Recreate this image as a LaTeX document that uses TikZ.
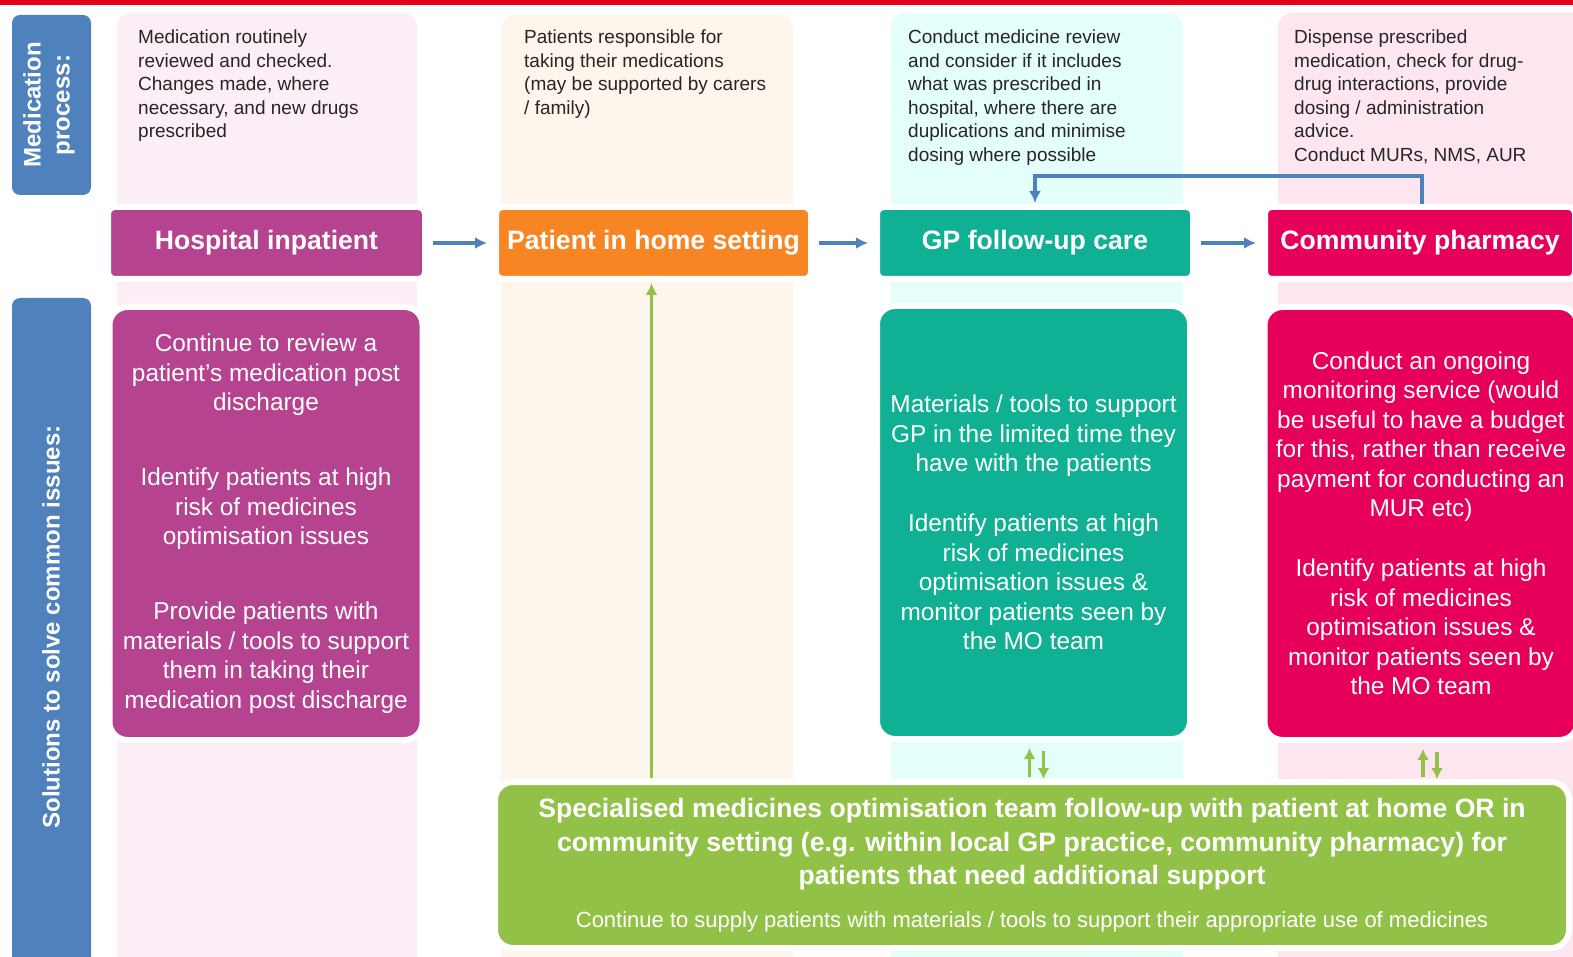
\documentclass[tikz,border=0pt]{standalone}
\usepackage{fontspec}
\setmainfont{Liberation Sans}
\usetikzlibrary{arrows.meta}

\definecolor{topred}{RGB}{226,0,26}
\definecolor{procblue}{RGB}{79,129,189}
\definecolor{hospfill}{RGB}{181,67,143}
\definecolor{homefill}{RGB}{248,133,36}
\definecolor{gpfill}{RGB}{16,176,148}
\definecolor{pharmfill}{RGB}{230,0,90}
\definecolor{mofill}{RGB}{146,193,71}
\definecolor{hospbg}{RGB}{251,238,246}
\definecolor{homebg}{RGB}{254,245,236}
\definecolor{gpbg}{RGB}{227,254,251}
\definecolor{pharmbg}{RGB}{253,230,239}
\definecolor{notetext}{RGB}{38,38,38}

\tikzset{
  sidelabel/.style={rotate=90, align=center, inner sep=0, text=white,
    font=\fontsize{24}{29}\selectfont\bfseries},
  note/.style={anchor=north west, align=left, inner sep=0, text=notetext,
    font=\fontsize{19}{23.5}\selectfont},
  stagebox/.style={rounded corners=7pt, draw=white, line width=6pt, text=white,
    minimum height=72, inner sep=0, font=\fontsize{26.6}{32}\selectfont\bfseries},
  solbox/.style={rounded corners=18pt, draw=white, line width=6pt, text=white,
    minimum width=313, minimum height=433, inner sep=0, align=center,
    font=\fontsize{24.4}{29.5}\selectfont},
  flow/.style={-{Latex[length=12pt,width=12pt]}, draw=procblue, line width=3.6pt},
  molink/.style={-{Latex[length=11pt,width=12pt]}, draw=mofill, line width=3.8pt}
}

\begin{document}
\begin{tikzpicture}[x=1pt, y=-1pt]
\useasboundingbox (0,0) rectangle (1573,957);
\clip (0,0) rectangle (1573,957);

% red rule on top
\fill[topred] (0,0) rectangle (1573,5);

% column backgrounds
\fill[hospbg, rounded corners=14pt] (117,13) rectangle (417,990);
\fill[homebg, rounded corners=14pt] (501,15) rectangle (793,990);
\fill[gpbg, rounded corners=14pt] (891,13) rectangle (1183,990);
\fill[pharmbg, rounded corners=14pt] (1278,13) rectangle (1600,990);

% row labels
\fill[procblue, rounded corners=8pt] (12,15) rectangle (91,195);
\node[sidelabel] (medproc) at (49,105) {Medication\\process:};
\fill[procblue, rounded corners=8pt] (12,298) rectangle (91,990);
\node[sidelabel] (solissues) at (51,627) {Solutions to solve common issues:};

% process notes
\node[note] (hospnote) at (138,30) {Medication routinely\\reviewed and checked.\\Changes made, where\\necessary, and new drugs\\prescribed};
\node[note] (homenote) at (524,30) {Patients responsible for\\taking their medications\\(may be supported by carers\\/ family)};
\node[note] (gpnote) at (908,30) {Conduct medicine review\\and consider if it includes\\what was prescribed in\\hospital, where there are\\duplications and minimise\\dosing where possible};
\node[note] (pharmnote) at (1294,30) {Dispense prescribed\\medication, check for drug-\\drug interactions, provide\\dosing / administration\\advice.\\Conduct MURs, NMS, AUR};

% stages
\node[stagebox, fill=hospfill, minimum width=317] (hosp) at (266.5,243) {Hospital inpatient};
\node[stagebox, fill=homefill, minimum width=315] (home) at (653.5,243) {Patient in home setting};
\node[stagebox, fill=gpfill, minimum width=316] (gp) at (1035,243) {GP follow-up care};
\node[stagebox, fill=pharmfill, minimum width=310] (pharm) at (1420,243) {Community pharmacy};

\draw[flow, shorten <=5pt, shorten >=6pt] (hosp.east) -- (home.west);
\draw[flow, shorten <=5pt, shorten >=6pt] (home.east) -- (gp.west);
\draw[flow, shorten <=5pt, shorten >=6pt] (gp.east) -- (pharm.west);
\draw[flow, shorten >=1pt] ([xshift=2pt]pharm.north) -- ++(0,-28) -| (gp.north);

% solutions
\node[solbox, fill=hospfill] (hospsol) at (266,523.5) {Continue to review a\\patient’s medication post\\discharge\\[45.5pt]Identify patients at high\\risk of medicines\\optimisation issues\\[45.5pt]Provide patients with\\materials / tools to support\\them in taking their\\medication post discharge};
\node[solbox, fill=gpfill] (gpsol) at (1033.5,522.5) {Materials / tools to support\\GP in the limited time they\\have with the patients\\[30.5pt]Identify patients at high\\risk of medicines\\optimisation issues \&\\monitor patients seen by\\the MO team};
\node[solbox, fill=pharmfill] (pharmsol) at (1421,523.5) {Conduct an ongoing\\monitoring service (would\\be useful to have a budget\\for this, rather than receive\\payment for conducting an\\MUR etc)\\[30.5pt]Identify patients at high\\risk of medicines\\optimisation issues \&\\monitor patients seen by\\the MO team};

\node[rounded corners=18pt, draw=white, line width=6pt, fill=mofill, text=white,
  minimum width=1074, minimum height=166, inner sep=0, align=center,
  font=\fontsize{26.6}{33.5}\selectfont\bfseries] (mo) at (1032,865)
  {Specialised medicines optimisation team follow-up with patient at home OR in\\community setting (e.g. within local GP practice, community pharmacy) for\\patients that need additional support\\[9pt]{\fontsize{22}{26}\selectfont\mdseries Continue to supply patients with materials / tools to support their appropriate use of medicines}};

% links to the MO team
\draw[molink, -{Latex[length=12pt,width=12pt]}, line width=3.6pt, shorten <=1pt, shorten >=1pt] ([xshift=-2pt]mo.north -| home.south) -- ([xshift=-2pt]home.south);
\draw[molink, shorten <=2pt, shorten >=6pt] ([xshift=-4pt]gpsol.south |- mo.north) -- ([xshift=-4pt]gpsol.south);
\draw[molink, shorten <=9pt, shorten >=0pt] ([xshift=10pt]gpsol.south) -- ([xshift=10pt]gpsol.south |- mo.north);
\draw[molink, shorten <=2pt, shorten >=6pt] ([xshift=2pt]pharmsol.south |- mo.north) -- ([xshift=2pt]pharmsol.south);
\draw[molink, shorten <=9pt, shorten >=0pt] ([xshift=16pt]pharmsol.south) -- ([xshift=16pt]pharmsol.south |- mo.north);
\end{tikzpicture}
\end{document}
